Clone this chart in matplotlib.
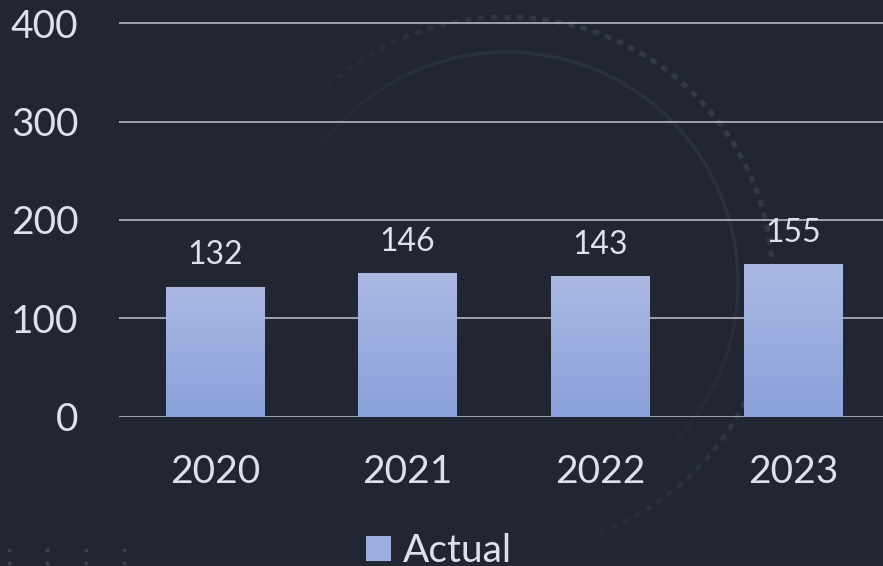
import numpy as np
import matplotlib
matplotlib.use("Agg")
import matplotlib.pyplot as plt
from matplotlib.colors import LinearSegmentedColormap, to_rgb
from matplotlib.patches import Rectangle
from matplotlib.collections import LineCollection

# ---- data ----
categories = ["2020", "2021", "2022", "2023"]
actual = [132, 146, 143, 155]
yticks = [0, 100, 200, 300, 400]
series_name = "Actual"

# ---- style ----
BG = "#212632"
TXT = "#dde1ea"
GRID = "#c6c8ce"
BAR_TOP = "#abb9e3"
BAR_BOT = "#8aa1da"
FONT = ["Lato", "DejaVu Sans"]
plt.rcParams["font.family"] = FONT

W, H, DPI = 883, 566, 100
fig = plt.figure(figsize=(W / DPI, H / DPI), dpi=DPI, facecolor=BG)

# background decoration axes (pixel coordinates)
bg = fig.add_axes([0, 0, 1, 1], zorder=-5)
bg.set_xlim(0, W)
bg.set_ylim(H, 0)
bg.axis("off")
bg.set_facecolor(BG)


def faded_circle(cx, cy, r, col, lw, n, a0, dashed=False):
    th = np.linspace(0, 2 * np.pi, n + 1)
    x = cx + r * np.cos(th)
    y = cy - r * np.sin(th)
    mid = (th[:-1] + th[1:]) / 2
    w = np.clip(0.35 + 0.9 * np.cos(mid - a0), 0.0, 1.0)
    c1 = np.array(to_rgb(col))
    c0 = np.array(to_rgb(BG))
    cols = c0[None, :] * (1 - w[:, None]) + c1[None, :] * w[:, None]
    if dashed:
        # square dots: take every other segment
        segs = [[(x[i], y[i]), (x[i + 1], y[i + 1])] for i in range(0, n, 2)]
        cols = cols[0::2]
    else:
        segs = [[(x[i], y[i]), (x[i + 1], y[i + 1])] for i in range(n)]
    lc = LineCollection(segs, colors=cols, linewidths=lw, capstyle="butt")
    bg.add_collection(lc)


cx, cy = 507, 283
faded_circle(cx, cy, 231, "#2b3241", 3.5 * 72 / DPI, 720, np.deg2rad(50))
r2 = 266
ndots = int(round(2 * np.pi * r2 / 6.5))
ndots += ndots % 2
faded_circle(cx, cy, r2, "#323a4a", 5 * 72 / DPI, ndots, np.deg2rad(30), dashed=True)

dx = [9, 47, 86, 124]
dy = [550, 563, 576]
gx, gy = np.meshgrid(dx, dy)
bg.scatter(gx.ravel(), gy.ravel(), s=9, color="#394253", linewidths=0)

# main axes
px_per_unit = 98.35 / 100
y0_px = 416.7
ytop = 402
left_px = 118.6
xs = np.arange(len(categories))
spacing = 192.67
xmin, xmax = -0.5, len(categories) - 0.5
ax_w = (xmax - xmin) * spacing
ax_h = ytop * px_per_unit
ax = fig.add_axes([left_px / W, (H - y0_px) / H, ax_w / W, ax_h / H])
ax.set_facecolor("none")
ax.set_xlim(xmin, xmax)
ax.set_ylim(0, ytop)
for s in ax.spines.values():
    s.set_visible(False)
ax.set_yticks(yticks)
ax.set_yticklabels([str(v) for v in yticks])
ax.set_xticks(xs)
ax.set_xticklabels(categories)
ax.tick_params(axis="y", length=0, pad=29, labelsize=28, labelcolor=TXT)
ax.tick_params(axis="x", length=0, pad=27, labelsize=28, labelcolor=TXT)
ax.yaxis.grid(True, color=GRID, lw=1.5 * 72 / DPI)
ax.set_axisbelow(True)

bars = ax.bar(xs, actual, width=0.51, color=BAR_BOT, label=series_name, zorder=2)
cmap = LinearSegmentedColormap.from_list("g", [BAR_BOT, BAR_TOP])
grad = np.linspace(0, 1, 256).reshape(-1, 1)
for b in bars:
    x0, w, h = b.get_x(), b.get_width(), b.get_height()
    im = ax.imshow(grad, cmap=cmap, origin="lower", aspect="auto",
                   extent=[x0, x0 + w, 0, h], zorder=3)
    im.set_clip_path(b)
ax.set_xlim(xmin, xmax)
ax.set_ylim(0, ytop)

for xv, v in zip(xs, actual):
    ax.annotate(str(v), (xv, v), xytext=(0, 22.5 * 72 / DPI), textcoords="offset points",
                ha="center", va="baseline", fontsize=23, color=TXT, zorder=4)

# legend
handle = Rectangle((0, 0), 1, 1, facecolor="#9cafe0", edgecolor="none")
fs = 28
em = fs * DPI / 72
leg = fig.legend([handle], [series_name], loc="center left",
                 bbox_to_anchor=(366 / W, 1 - 551 / H), frameon=False,
                 fontsize=fs, labelcolor=TXT, handlelength=25 / em, handleheight=24 / em,
                 handletextpad=12 / em, borderpad=0, borderaxespad=0)

fig.savefig("out.png", dpi=DPI, facecolor=BG)
